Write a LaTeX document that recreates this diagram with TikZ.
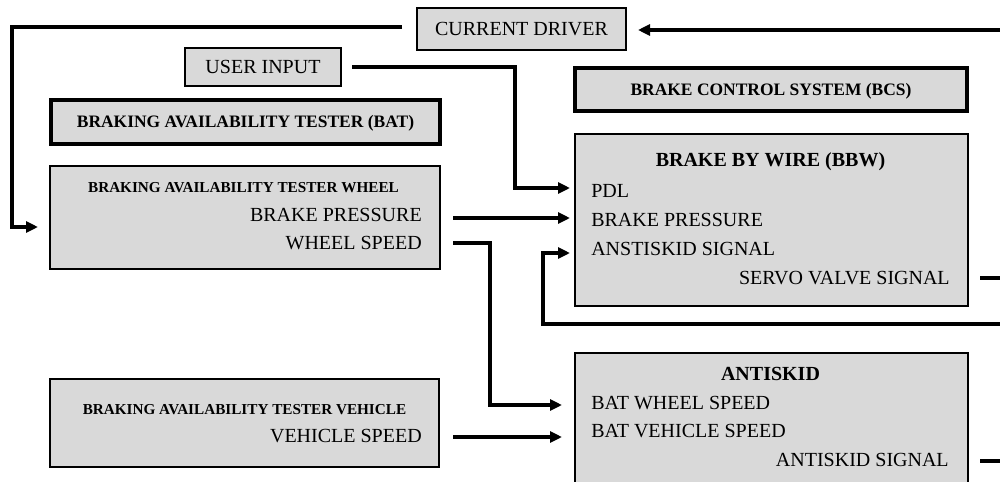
\documentclass[tikz,border=0pt]{standalone}
\usepackage{fontspec}
\setmainfont{Liberation Serif}
\usetikzlibrary{arrows.meta,calc}
\definecolor{boxgray}{HTML}{D9D9D9}
\begin{document}
\begin{tikzpicture}[x=0.75pt,y=-0.75pt,
  box/.style={draw=black, fill=boxgray, line width=1.6pt, inner sep=0pt, outer sep=0pt},
  titlebox/.style={box, line width=2.8pt},
  sz/.style 2 args={minimum width=#1*0.75pt, minimum height=#2*0.75pt},
  reg/.style={font=\fontsize{15}{18}\selectfont, inner sep=0pt},
  regbox/.style={font=\fontsize{15}{18}\selectfont, text height=9.93pt, text depth=0pt},
  headbox/.style={font=\bfseries\fontsize{13.1}{16}\selectfont, text height=8.67pt, text depth=0pt},
  head/.style={font=\bfseries\fontsize{15}{18}\selectfont, inner sep=0pt, anchor=base},
  subhead/.style={font=\bfseries\fontsize{11.4}{14}\selectfont, inner sep=0pt, anchor=base},
  wire/.style={line width=2.4pt},
  conn/.style={wire, -{Triangle[length=9pt,width=8.25pt]}},
]
\useasboundingbox (0,0) rectangle (1000,482);
\clip (0,0) rectangle (1000,482);

% boxes
\node[box, sz={209}{42}, regbox] (cd) at (521.5,29) {CURRENT DRIVER};
\node[box, sz={156}{38}, regbox] (ui) at (263,67) {USER INPUT};
\node[titlebox, sz={389}{44}, headbox] (bat) at (245.5,122) {BRAKING AVAILABILITY TESTER (BAT)};
\node[titlebox, sz={392}{43}, headbox] (bcs) at (771,89.5) {BRAKE CONTROL SYSTEM (BCS)};
\node[box, sz={393}{172}] (bbw) at (771.5,220) {};
\node[box, sz={390}{103}] (batw) at (245,217.5) {};
\node[box, sz={389}{88}] (batv) at (244.5,423) {};
\node[box, sz={393}{160}] (ask) at (771.5,433) {};

% brake by wire contents
\node[head] (bbwt) at (770.5,166.6) {BRAKE BY WIRE (BBW)};
\node[reg, anchor=base west] (pdl) at (591,197.6) {PDL};
\node[reg, anchor=base west] (bbwbp) at (591,226.1) {BRAKE PRESSURE};
\node[reg, anchor=base west] (bbwas) at (591,255.1) {ANSTISKID SIGNAL};
\node[reg, anchor=base east] (servo) at (950,284.1) {SERVO VALVE SIGNAL};

% antiskid contents
\node[head] (askt) at (770.5,380.6) {ANTISKID};
\node[reg, anchor=base west] (askws) at (591,409.1) {BAT WHEEL SPEED};
\node[reg, anchor=base west] (askvs) at (591,437.1) {BAT VEHICLE SPEED};
\node[reg, anchor=base east] (asksig) at (949,466.1) {ANTISKID SIGNAL};

% tester wheel contents
\node[subhead] (batwt) at (243.5,192.05) {BRAKING AVAILABILITY TESTER WHEEL};
\node[reg, anchor=base east] (batwbp) at (422,221.1) {BRAKE PRESSURE};
\node[reg, anchor=base east] (batwws) at (422,249.1) {WHEEL SPEED};

% tester vehicle contents
\node[subhead] (batvt) at (244.5,414.55) {BRAKING AVAILABILITY TESTER VEHICLE};
\node[reg, anchor=base east] (batvvs) at (422,442.6) {VEHICLE SPEED};

% free ends at the right border
\coordinate (e1) at (1000,30);
\coordinate (e2) at (1000,278);
\coordinate (e3) at (1000,324);
\coordinate (e4) at (1000,461);

% connectors
\draw[conn, shorten >=9pt] (e1) -- ($(cd.east)+(0,1)$);
\draw[conn, shorten <=11.25pt, shorten >=9pt]
  ($(cd.west)+(0,-2)$) -| ($(batw.west)+(-38,9.5)$) -- ($(batw.west)+(0,9.5)$);
\draw[conn, shorten <=8.25pt, shorten >=3.75pt]
  (ui.east) -| ($(bbw.west)+(-60,-32)$) -- ($(bbw.west)+(0,-32)$);
\draw[conn, shorten <=9.75pt, shorten >=3.75pt]
  ($(batw.east)+(0,0.5)$) -- ($(bbw.west)+(0,-2)$);
\draw[conn, shorten <=9.75pt, shorten >=9.75pt]
  ($(batw.east)+(0,25.5)$) -| ($(ask.west)+(-85,-28)$) -- ($(ask.west)+(0,-28)$);
\draw[conn, shorten <=10.5pt, shorten >=9.75pt]
  ($(batv.east)+(0,14)$) -- ($(ask.west)+(0,4)$);
\draw[wire, shorten <=9pt] ($(bbw.east)+(0,58)$) -- (e2);
\draw[conn, shorten >=3.75pt]
  (e3) -| ($(bbw.west)+(-32,33)$) -- ($(bbw.west)+(0,33)$);
\draw[wire, shorten <=9pt] ($(ask.east)+(0,28)$) -- (e4);
\end{tikzpicture}
\end{document}
